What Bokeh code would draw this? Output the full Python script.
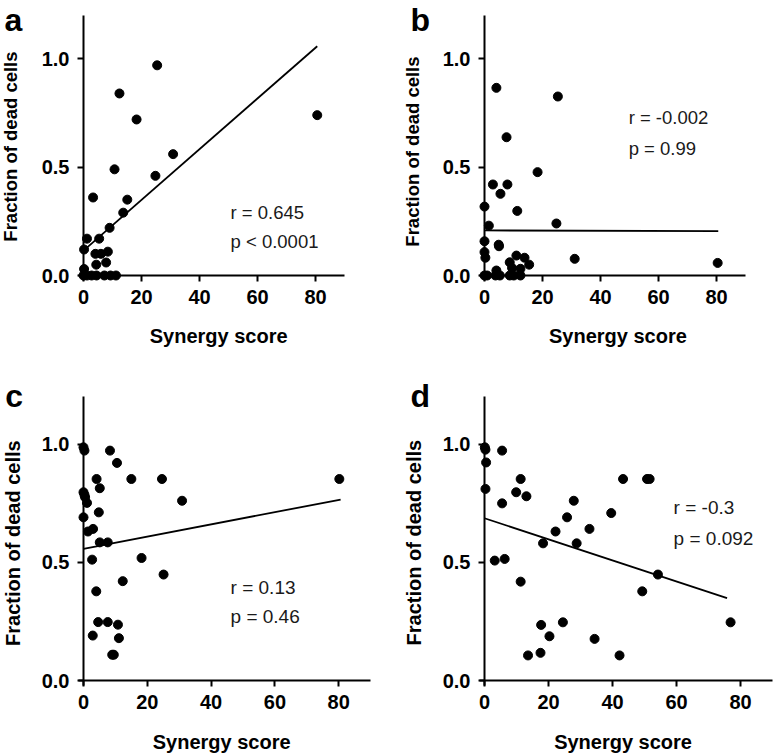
import math
from bokeh.plotting import figure
from bokeh.models import Range1d, FixedTicker, Label, NumeralTickFormatter, LinearAxis
from bokeh.layouts import column, row
from bokeh.embed import file_html
from bokeh.resources import INLINE

# ---------------- data ----------------
x_ticks = [0, 20, 40, 60, 80]
y_ticks = [0.0, 0.5, 1.0]
x_title = "Synergy score"
y_title = "Fraction of dead cells"

a_x = [25.4, 12.4, 18.3, 80.6, 30.9, 10.7, 24.8, 3.3, 15.1, 13.7, 9.0, 1.2, 5.4, 0.2, 4.1, 6.0,
       8.4, 4.4, 7.8, 0.2, 0.0, 1.2, 2.8, 4.5, 7.2, 9.3, 11.2]
a_y = [0.97, 0.84, 0.72, 0.74, 0.56, 0.49, 0.46, 0.36, 0.35, 0.29, 0.22, 0.17, 0.17, 0.12, 0.10, 0.10,
       0.11, 0.05, 0.06, 0.03, 0.0, 0.0, 0.0, 0.0, 0.0, 0.0, 0.0]
a_fit_x = [0.0, 80.6]
a_fit_y = [0.115, 1.058]
a_stats = ["r = 0.645", "p < 0.0001"]

b_x = [4.1, 25.3, 7.6, 18.3, 2.9, 7.9, 5.5, 0.0, 11.3, 1.5, 24.8, 0.0, 4.9, 5.0, 0.0, 0.3, 11.0,
       13.8, 15.4, 31.1, 80.4, 8.7, 9.5, 12.4, 4.1, 0.0, 0.9, 3.8, 5.3, 8.7, 10.1, 12.4]
b_y = [0.866, 0.826, 0.638, 0.477, 0.42, 0.42, 0.377, 0.318, 0.298, 0.23, 0.24, 0.158, 0.142, 0.135,
       0.108, 0.082, 0.092, 0.082, 0.05, 0.077, 0.058, 0.061, 0.035, 0.031, 0.023, 0.0, 0.0, 0.0,
       0.0, 0.0, 0.0, 0.0]
b_fit_x = [0.0, 80.6]
b_fit_y = [0.208, 0.205]
b_stats = ["r = -0.002", "p = 0.99"]

c_x = [0.0, 0.3, 8.3, 10.5, 4.1, 15.0, 24.6, 80.2, 5.1, 0.0, 0.3, 0.5, 1.1, 30.9, 0.0, 4.8, 1.4,
       3.0, 5.1, 7.6, 2.7, 18.2, 25.1, 12.3, 4.0, 4.6, 7.6, 10.8, 2.9, 11.1, 9.0, 9.5]
c_y = [0.986, 0.972, 0.972, 0.92, 0.852, 0.852, 0.852, 0.852, 0.813, 0.796, 0.785, 0.775, 0.751,
       0.76, 0.69, 0.711, 0.63, 0.641, 0.584, 0.584, 0.511, 0.518, 0.448, 0.42, 0.377, 0.247,
       0.247, 0.236, 0.19, 0.179, 0.109, 0.109]
c_fit_x = [0.0, 80.6]
c_fit_y = [0.557, 0.765]
c_stats = ["r = 0.13", "p = 0.46"]

d_x = [0.1, 0.3, 5.5, 0.5, 0.3, 11.3, 43.3, 50.8, 51.6, 9.9, 13.1, 5.5, 27.9, 39.6, 25.8, 22.2,
       32.8, 18.3, 28.8, 3.2, 6.3, 54.2, 11.3, 49.3, 76.9, 24.5, 17.7, 20.3, 34.4, 13.6, 17.5, 42.2]
d_y = [0.986, 0.976, 0.972, 0.922, 0.81, 0.852, 0.852, 0.852, 0.852, 0.796, 0.779, 0.749, 0.76,
       0.708, 0.69, 0.63, 0.641, 0.58, 0.58, 0.507, 0.514, 0.448, 0.418, 0.377, 0.246, 0.246,
       0.235, 0.187, 0.176, 0.106, 0.117, 0.106]
d_fit_x = [0.0, 75.8]
d_fit_y = [0.686, 0.348]
d_stats = ["r = -0.3", "p = 0.092"]

FONT = "Liberation Sans"


def panel(xs, ys, fx, fy, stats, letter, g):
    W, H = g["size"]
    ox, oy = g["origin"]          # pixel position of data (0, 0) inside the figure
    sx, sy = g["scale"]           # pixels per data unit
    xr = Range1d(-ox / sx, (W - ox) / sx)
    yr = Range1d(-(H - oy) / sy, oy / sy)
    p = figure(width=W, height=H, output_backend="svg", toolbar_location=None,
               x_range=xr, y_range=yr, x_axis_location=None, y_axis_location=None,
               min_border=0, min_border_left=0, min_border_right=0,
               min_border_top=0, min_border_bottom=0,
               background_fill_color="white", border_fill_color="white")
    p.outline_line_color = None
    p.grid.visible = False

    xax = LinearAxis(fixed_location=0, ticker=FixedTicker(ticks=x_ticks),
                     formatter=NumeralTickFormatter(format="0"), bounds=(-5 / sx, 90))
    yax = LinearAxis(fixed_location=0, ticker=FixedTicker(ticks=y_ticks),
                     formatter=NumeralTickFormatter(format="0.0"), bounds=(-5 / sy, 1.2))
    for ax in (xax, yax):
        ax.axis_line_width = 2
        ax.axis_line_color = "black"
        ax.major_tick_line_width = 2
        ax.major_tick_line_color = "black"
        ax.major_tick_in = 0
        ax.major_tick_out = 6
        ax.minor_tick_line_color = None
        ax.major_label_text_font = FONT
        ax.major_label_text_font_style = "bold"
        ax.major_label_text_font_size = g["tick_fs"]
        ax.major_label_text_color = "black"
        ax.major_label_standoff = 8
    p.add_layout(xax, "below")
    p.add_layout(yax, "left")

    p.line(fx, fy, line_color="black", line_width=1.8)
    p.scatter(xs, ys, size=9, fill_color="black", line_color="black")

    lx, ly = g["letter"]
    p.add_layout(Label(x=lx, y=ly, text=letter, text_font=FONT,
                       text_font_style="bold", text_font_size="32px", text_color="black",
                       text_align="left", text_baseline="alphabetic"))
    tx, ty = g["ytitle"]
    p.add_layout(Label(x=tx, y=ty, text=y_title, text_font=FONT,
                       text_font_style="bold", text_font_size=g["ytitle_fs"], text_color="black",
                       text_align="center", text_baseline="alphabetic", angle=math.pi / 2))
    tx, ty = g["xtitle"]
    p.add_layout(Label(x=tx, y=ty, text=x_title, text_font=FONT,
                       text_font_style="bold", text_font_size=g["xtitle_fs"], text_color="black",
                       text_align="center", text_baseline="alphabetic"))
    for s, (px, py) in zip(stats, g["stats"]):
        p.add_layout(Label(x=px, y=py, text=s, text_font=FONT, text_font_size=g["stat_fs"],
                           text_color="#1a1a1a", text_align="left", text_baseline="alphabetic"))
    return p


geo_a = dict(size=(385, 375), origin=(83, 275), scale=(2.9, 216.7),
             tick_fs="20px", xtitle_fs="20px", ytitle_fs="18.5px", stat_fs="18.5px",
             letter=(-27.2, 1.177), ytitle=(-25.2, 0.595), xtitle=(46.6, -0.279),
             stats=[(50.7, 0.292), (50.7, 0.1546)])
geo_b = dict(size=(390, 375), origin=(99, 275), scale=(2.9, 216.7),
             tick_fs="20px", xtitle_fs="20px", ytitle_fs="18.5px", stat_fs="18.5px",
             letter=(-25.5, 1.177), ytitle=(-24.8, 0.572), xtitle=(46.0, -0.279),
             stats=[(49.7, 0.729), (49.7, 0.585)])
geo_c = dict(size=(385, 379), origin=(83, 305), scale=(3.19, 236.5),
             tick_fs="20px", xtitle_fs="20px", ytitle_fs="20px", stat_fs="19px",
             letter=(-24.5, 1.201), ytitle=(-22.0, 0.581), xtitle=(43.3, -0.2596),
             stats=[(46.1, 0.3945), (46.1, 0.269)])
geo_d = dict(size=(390, 379), origin=(99, 305), scale=(3.2, 236.5),
             tick_fs="20px", xtitle_fs="20px", ytitle_fs="20px", stat_fs="19px",
             letter=(-23.1, 1.201), ytitle=(-22.0, 0.583), xtitle=(43.3, -0.2596),
             stats=[(59.1, 0.733), (59.1, 0.602)])

pa = panel(a_x, a_y, a_fit_x, a_fit_y, a_stats, "a", geo_a)
pb = panel(b_x, b_y, b_fit_x, b_fit_y, b_stats, "b", geo_b)
pc = panel(c_x, c_y, c_fit_x, c_fit_y, c_stats, "c", geo_c)
pd = panel(d_x, d_y, d_fit_x, d_fit_y, d_stats, "d", geo_d)

layout = column(row(pa, pb, spacing=0), row(pc, pd, spacing=0), spacing=0)

open("out.html", "w").write(file_html(layout, INLINE))
